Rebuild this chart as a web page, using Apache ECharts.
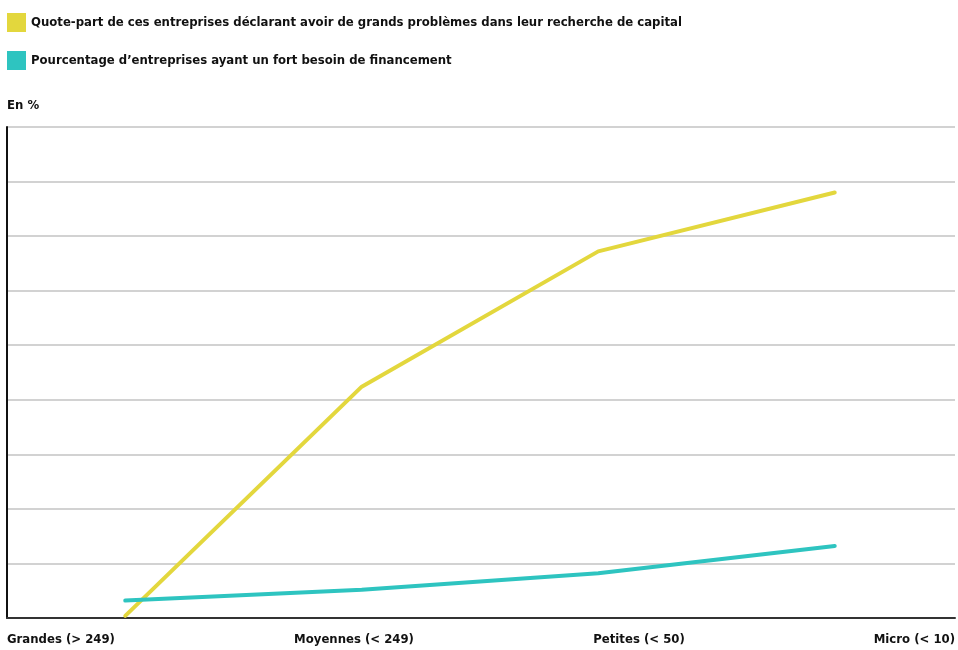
<!DOCTYPE html>
<html>
<head>
<meta charset="utf-8">
<script src="https://cdn.jsdelivr.net/npm/echarts@6/dist/echarts.min.js"></script>
<style>
  html, body { margin: 0; padding: 0; background: #fff; overflow: hidden; }
  #main { width: 958px; height: 650px; }
</style>
</head>
<body>
<div id="main"></div>
<script>
const categories = ['Grandes (> 249)', 'Moyennes (< 249)', 'Petites (< 50)', 'Micro (< 10)'];
const seriesNames = [
  'Quote-part de ces entreprises déclarant avoir de grands problèmes dans leur recherche de capital',
  'Pourcentage d’entreprises ayant un fort besoin de financement'
];
const problemes = [0.2, 21.2, 33.6, 39.0];
const besoin = [1.6, 2.6, 4.1, 6.6];

const font = "'Liberation Sans Narrow', 'DejaVu Sans Condensed', sans-serif";
const YELLOW = '#e3d73d';
const TEAL = '#2ec4c0';

const myChart = echarts.init(document.getElementById('main'));

const option = {
  animation: false,
  backgroundColor: '#fff',
  textStyle: { fontFamily: font },
  title: {
    text: 'En %',
    left: 7,
    top: 99,
    padding: 0,
    textStyle: { fontFamily: font, fontSize: 13, fontWeight: 'bold', color: '#111' }
  },
  legend: {
    orient: 'vertical',
    left: 7,
    top: 13,
    padding: 0,
    itemWidth: 19,
    itemHeight: 19,
    itemGap: 19,
    itemTextGap: 7,
    icon: 'rect',
    textStyle: { fontFamily: font, fontSize: 13, fontWeight: 'bold', color: '#111' },
    data: seriesNames
  },
  grid: [
    { left: 7, right: 5, top: 127, bottom: 32, containLabel: false },
    { left: 7, right: 0, top: 127, bottom: 32, containLabel: false }
  ],
  xAxis: [
    {
      type: 'category',
      gridIndex: 0,
      data: categories,
      boundaryGap: true,
      axisLine: { show: false },
      axisTick: { show: false },
      axisLabel: { show: false }
    },
    {
      type: 'category',
      gridIndex: 1,
      data: categories,
      boundaryGap: false,
      axisLine: { show: true, lineStyle: { color: '#333', width: 2 } },
      axisTick: { show: false },
      axisLabel: {
        margin: 15,
        fontFamily: font,
        fontSize: 13,
        fontWeight: 'bold',
        color: '#111',
        alignMinLabel: 'left',
        alignMaxLabel: 'right',
        formatter: function (v, i) {
          return i === 1 ? '{m|' + v + '}' : v;
        },
        rich: {
          m: { padding: [0, 0, 0, 62], fontFamily: font, fontSize: 13, fontWeight: 'bold', color: '#111' }
        }
      }
    }
  ],
  yAxis: [
    {
      type: 'value',
      gridIndex: 0,
      min: 0,
      max: 45,
      interval: 5,
      axisLine: { show: true, lineStyle: { color: '#111', width: 2 } },
      axisTick: { show: false },
      axisLabel: { show: false },
      splitLine: { show: false }
    },
    {
      type: 'value',
      gridIndex: 1,
      min: 0,
      max: 45,
      interval: 5,
      axisLine: { show: false },
      axisTick: { show: false },
      axisLabel: { show: false },
      splitLine: { show: true, lineStyle: { color: '#d2d2d2', width: 2 } }
    }
  ],
  series: [
    {
      name: seriesNames[0],
      type: 'line',
      xAxisIndex: 0,
      yAxisIndex: 0,
      data: problemes,
      symbol: 'none',
      color: YELLOW,
      lineStyle: { color: YELLOW, width: 4, cap: 'round' },
      itemStyle: { color: YELLOW },
      z: 3
    },
    {
      name: seriesNames[1],
      type: 'line',
      xAxisIndex: 0,
      yAxisIndex: 0,
      data: besoin,
      symbol: 'none',
      color: TEAL,
      lineStyle: { color: TEAL, width: 4, cap: 'round' },
      itemStyle: { color: TEAL },
      z: 4
    }
  ]
};

myChart.setOption(option, true);
</script>
</body>
</html>
